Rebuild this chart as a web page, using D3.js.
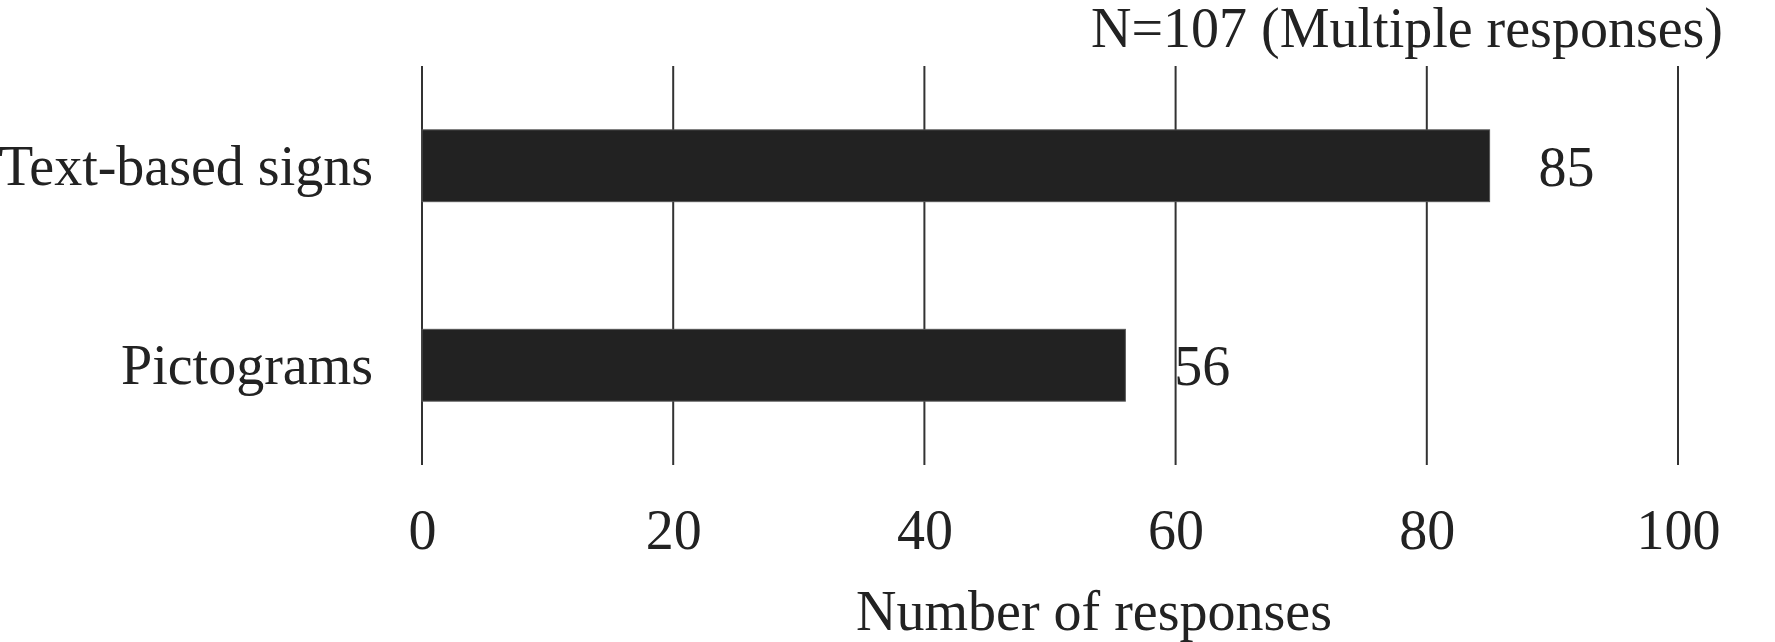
<!DOCTYPE html>
<html>
<head>
<meta charset="utf-8">
<script src="https://cdn.jsdelivr.net/npm/d3@7/dist/d3.min.js"></script>
<style>
  html, body { margin: 0; padding: 0; background: #fff; }
  svg { display: block; }
  text { font-family: "Liberation Serif", "Times New Roman", serif; fill: #222; }
</style>
</head>
<body>
<svg id="chart" width="1775" height="642"></svg>
<script>
const categories = ["Text-based signs", "Pictograms"];
const values = [85, 56];
const tickValues = [0, 20, 40, 60, 80, 100];
const title = "N=107 (Multiple responses)";
const xTitle = "Number of responses";

const W = 1775, H = 642;
const margin = { left: 422, right: W - 1678, top: 66, bottom: H - 465 };
const svg = d3.select("#chart");

const x = d3.scaleLinear().domain([0, 100]).range([margin.left, W - margin.right]);
const y = d3.scaleBand().domain(categories).range([margin.top, H - margin.bottom]).paddingInner(0.64).paddingOuter(0.32);

const fs = 56;

// gridlines
svg.append("g")
  .selectAll("line")
  .data(tickValues)
  .join("line")
  .attr("x1", d => x(d)).attr("x2", d => x(d))
  .attr("y1", margin.top).attr("y2", H - margin.bottom)
  .attr("stroke", "#333").attr("stroke-width", 2);

// bars
svg.append("g")
  .selectAll("rect")
  .data(values)
  .join("rect")
  .attr("x", x(0))
  .attr("y", (d, i) => y(categories[i]))
  .attr("width", d => x(d) - x(0))
  .attr("height", y.bandwidth())
  .attr("fill", "#222")
  .attr("stroke", "#555").attr("stroke-width", 1);

// value labels
svg.append("g")
  .selectAll("text")
  .data(values)
  .join("text")
  .attr("x", d => x(d) + 49)
  .attr("y", (d, i) => y(categories[i]) + y.bandwidth() / 2 + 20)
  .attr("font-size", fs)
  .text(d => d);

// category labels
svg.append("g")
  .selectAll("text")
  .data(categories)
  .join("text")
  .attr("x", x(0) - 49)
  .attr("y", d => y(d) + y.bandwidth() / 2 + 19)
  .attr("text-anchor", "end")
  .attr("font-size", fs)
  .text(d => d);

// x axis tick labels
const xAxis = d3.axisBottom(x).tickValues(tickValues).tickSize(0).tickPadding(0);
const gx = svg.append("g").attr("transform", `translate(0, ${H - margin.bottom})`).call(xAxis);
gx.select(".domain").remove();
gx.selectAll("text")
  .attr("font-size", fs)
  .attr("font-family", '"Liberation Serif", "Times New Roman", serif')
  .attr("fill", "#222")
  .attr("dy", null)
  .attr("y", 84);

// axis title
svg.append("text")
  .attr("x", 1094)
  .attr("y", 630)
  .attr("text-anchor", "middle")
  .attr("font-size", fs)
  .text(xTitle);

// title
svg.append("text")
  .attr("x", 1723)
  .attr("y", 47)
  .attr("text-anchor", "end")
  .attr("font-size", fs)
  .text(title);
</script>
</body>
</html>
